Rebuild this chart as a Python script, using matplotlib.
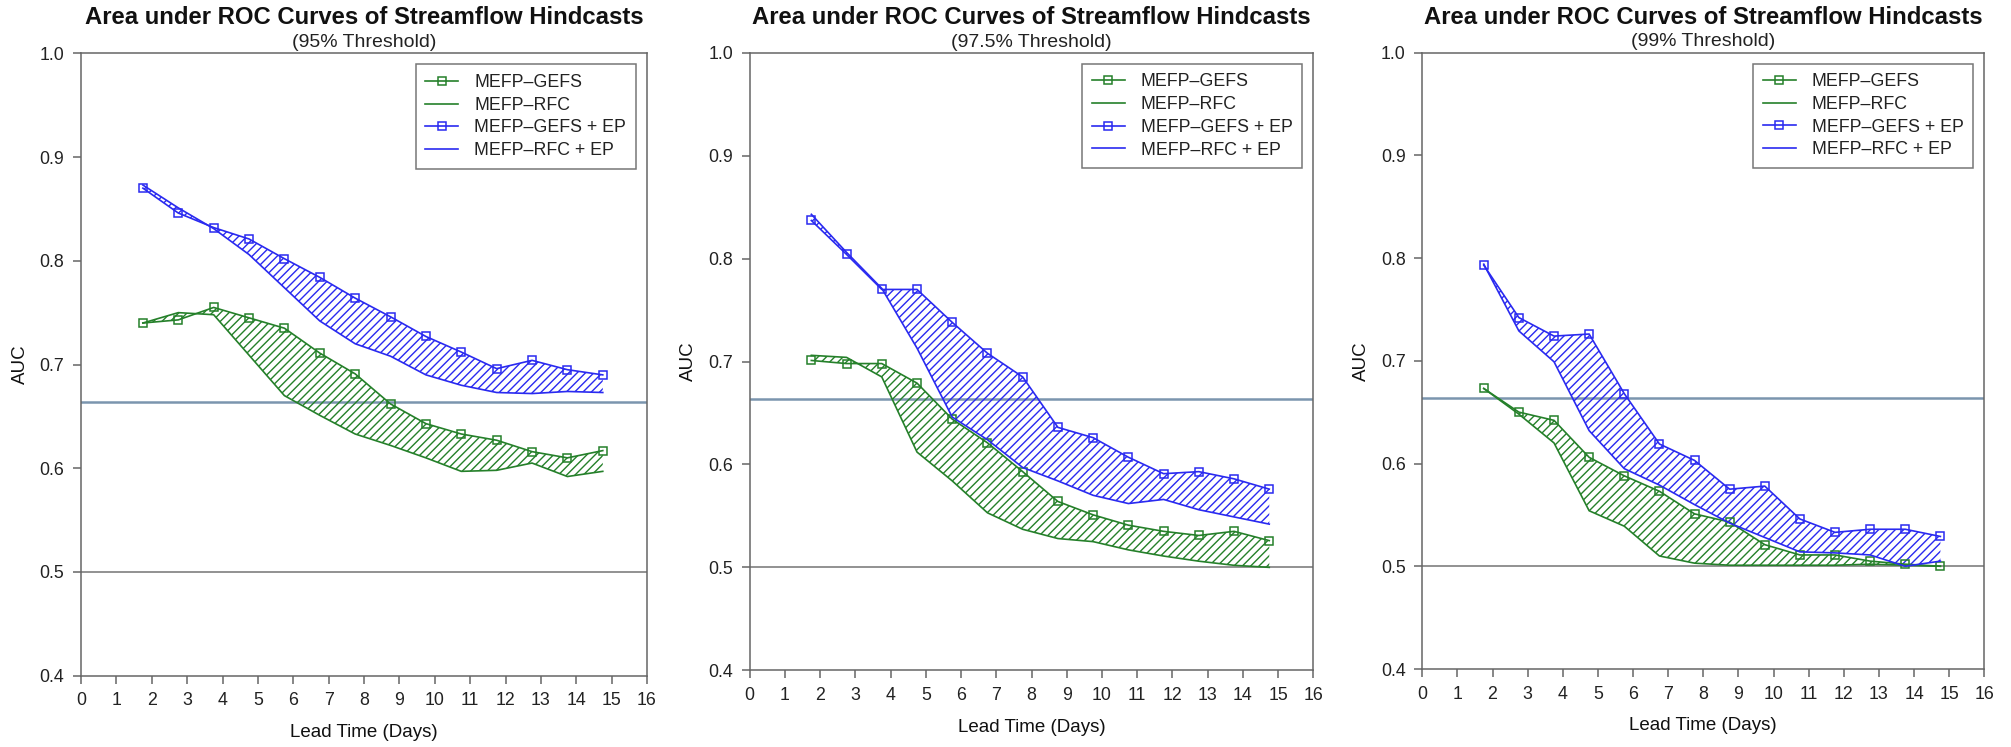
import matplotlib
matplotlib.use('Agg')
import matplotlib.pyplot as plt

plt.rcParams['font.family'] = ['Liberation Sans', 'DejaVu Sans']
plt.rcParams['hatch.linewidth'] = 1.0

# lead times (days) at which AUC was computed
lead_days = [1.75, 2.75, 3.75, 4.75, 5.75, 6.75, 7.75, 8.75, 9.75, 10.75, 11.75, 12.75, 13.75, 14.75]

thresholds = ['95%', '97.5%', '99%']

# 95% threshold
gefs_95 = [0.740, 0.743, 0.755, 0.745, 0.735, 0.711, 0.691, 0.662, 0.643, 0.633, 0.627, 0.616, 0.610, 0.617]
rfc_95 = [0.740, 0.750, 0.748, 0.709, 0.670, 0.651, 0.633, 0.622, 0.610, 0.597, 0.598, 0.605, 0.592, 0.597]
gefs_ep_95 = [0.870, 0.846, 0.832, 0.821, 0.802, 0.784, 0.764, 0.746, 0.727, 0.712, 0.696, 0.704, 0.695, 0.690]
rfc_ep_95 = [0.873, 0.851, 0.831, 0.806, 0.774, 0.742, 0.720, 0.708, 0.690, 0.680, 0.673, 0.672, 0.674, 0.673]

# 97.5% threshold
gefs_975 = [0.701, 0.698, 0.698, 0.679, 0.644, 0.621, 0.593, 0.564, 0.551, 0.541, 0.535, 0.531, 0.535, 0.526]
rfc_975 = [0.706, 0.704, 0.685, 0.612, 0.584, 0.553, 0.537, 0.528, 0.525, 0.517, 0.511, 0.506, 0.502, 0.500]
gefs_ep_975 = [0.837, 0.804, 0.770, 0.770, 0.738, 0.708, 0.685, 0.636, 0.626, 0.607, 0.591, 0.593, 0.586, 0.576]
rfc_ep_975 = [0.843, 0.806, 0.771, 0.713, 0.646, 0.624, 0.597, 0.584, 0.570, 0.562, 0.566, 0.556, 0.549, 0.542]

# 99% threshold
gefs_99 = [0.673, 0.650, 0.642, 0.606, 0.588, 0.573, 0.551, 0.543, 0.521, 0.511, 0.511, 0.505, 0.502, 0.500]
rfc_99 = [0.673, 0.648, 0.620, 0.554, 0.539, 0.510, 0.503, 0.501, 0.501, 0.501, 0.501, 0.502, 0.501, 0.500]
gefs_ep_99 = [0.793, 0.742, 0.724, 0.726, 0.668, 0.619, 0.603, 0.575, 0.578, 0.546, 0.533, 0.536, 0.536, 0.529]
rfc_ep_99 = [0.794, 0.729, 0.699, 0.632, 0.595, 0.579, 0.560, 0.542, 0.528, 0.514, 0.513, 0.511, 0.500, 0.505]

no_skill = 0.5
ref_auc = 0.664

panels = [
    (gefs_95, rfc_95, gefs_ep_95, rfc_ep_95),
    (gefs_975, rfc_975, gefs_ep_975, rfc_ep_975),
    (gefs_99, rfc_99, gefs_ep_99, rfc_ep_99),
]

green = '#25802a'
blue = '#2a2af0'
frame = '#666666'

W, H = 2011, 747
# axes boxes in pixels: left, right, top, bottom
boxes = [(81, 647, 53.3, 675.7), (749.7, 1313.3, 52.7, 670.3), (1422.3, 1984.3, 52.5, 669.0)]

fig = plt.figure(figsize=(W / 100, H / 100), dpi=100)

for (l, r, t, b), thr, (gefs, rfc, gefs_ep, rfc_ep) in zip(boxes, thresholds, panels):
    ax = fig.add_axes([l / W, 1 - b / H, (r - l) / W, (b - t) / H])

    ax.axhline(no_skill, color='#7f7f7f', lw=1.2, zorder=1)
    ax.axhline(ref_auc, color='#7b95ae', lw=1.8, zorder=1)

    ax.fill_between(lead_days, gefs, rfc, facecolor='none', edgecolor=green,
                    hatch='////', linewidth=0, zorder=2)
    ax.fill_between(lead_days, gefs_ep, rfc_ep, facecolor='none', edgecolor=blue,
                    hatch='////', linewidth=0, zorder=2)

    ax.plot(lead_days, gefs, color=green, lw=1.2, marker='s', ms=6, mfc='none',
            mew=1.1, label='MEFP–GEFS', zorder=3)
    ax.plot(lead_days, rfc, color=green, lw=1.2, label='MEFP–RFC', zorder=3)
    ax.plot(lead_days, gefs_ep, color=blue, lw=1.2, marker='s', ms=6, mfc='none',
            mew=1.1, label='MEFP–GEFS + EP', zorder=3)
    ax.plot(lead_days, rfc_ep, color=blue, lw=1.2, label='MEFP–RFC + EP', zorder=3)

    ax.set_xlim(0, 16)
    ax.set_ylim(0.4, 1.0)
    ax.set_xticks(range(0, 17))
    ax.set_yticks([0.4, 0.5, 0.6, 0.7, 0.8, 0.9, 1.0])
    ax.set_yticklabels(['0.4', '0.5', '0.6', '0.7', '0.8', '0.9', '1.0'])
    ax.tick_params(direction='out', length=6, width=1.1, color=frame,
                   labelsize=12.8, labelcolor='#222222', pad=6)
    for s in ax.spines.values():
        s.set_color(frame)
        s.set_linewidth(1.1)

    ax.text(0.5, 1 + 35.3 / (b - t), 'Area under ROC Curves of Streamflow Hindcasts',
            transform=ax.transAxes, ha='center', va='center', fontsize=17.2,
            fontweight='bold', color='#111111')
    ax.text(0.5, 1 + 10.6 / (b - t), '(%s Threshold)' % thr,
            transform=ax.transAxes, ha='center', va='center', fontsize=14,
            color='#222222')
    ax.text(-61 / (r - l), 0.5, 'AUC', transform=ax.transAxes, rotation=90,
            ha='center', va='center', fontsize=13.5, color='#111111')
    ax.text(0.5, -57 / (b - t), 'Lead Time (Days)', transform=ax.transAxes,
            ha='center', va='center', fontsize=13.5, color='#111111')

    leg = ax.legend(loc='upper right', bbox_to_anchor=(1 - 11 / (r - l), 1 - 11 / (b - t)),
                    borderaxespad=0, fontsize=12.8, frameon=True, fancybox=False,
                    handlelength=1.85, handletextpad=0.9, labelspacing=0.32,
                    borderpad=0.55)
    leg.get_frame().set_edgecolor('#555555')
    leg.get_frame().set_linewidth(1.1)
    for txt in leg.get_texts():
        txt.set_color('#222222')

fig.savefig('out.png', dpi=100)
